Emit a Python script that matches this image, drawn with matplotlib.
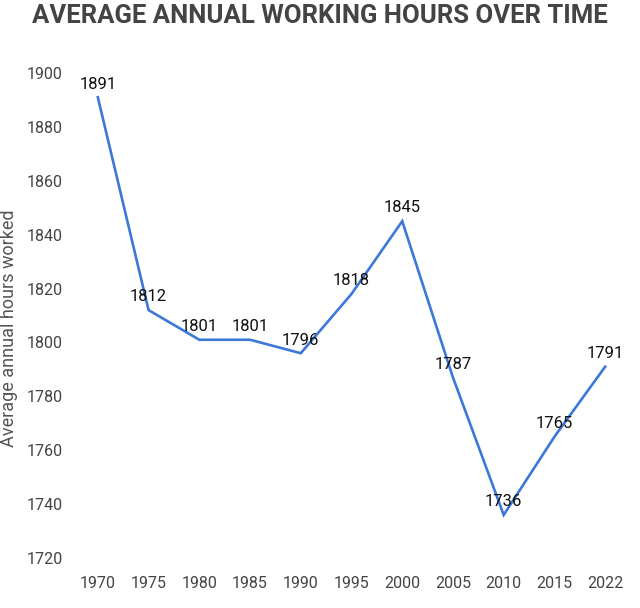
import matplotlib
matplotlib.use("Agg")
import matplotlib.pyplot as plt

years = ["1970", "1975", "1980", "1985", "1990", "1995", "2000", "2005", "2010", "2015", "2022"]
hours = [1891, 1812, 1801, 1801, 1796, 1818, 1845, 1787, 1736, 1765, 1791]
y_ticks = [1720, 1740, 1760, 1780, 1800, 1820, 1840, 1860, 1880, 1900]

plt.rcParams['font.family'] = ['Roboto', 'DejaVu Sans']

fig = plt.figure(figsize=(6.4, 6.08), dpi=100)
ax = fig.add_axes([75 / 640, 50 / 608, 553 / 640, 485 / 608])

x = list(range(len(years)))
ax.plot(x, hours, color='#3c78d8', lw=1.9, solid_joinstyle='miter')

for xi, v in zip(x, hours):
    ax.annotate(str(v), (xi, v), xytext=(0, 9.5), textcoords='offset points',
                ha='center', va='center', fontsize=12, color='#111111')

ax.set_xlim(-0.45, len(years) - 1 + 0.45)
ax.set_ylim(1720, 1900)
ax.set_xticks(x)
ax.set_xticklabels(years)
ax.set_yticks(y_ticks)
ax.tick_params(axis='both', length=0, labelsize=11.5, labelcolor='#444444')
ax.tick_params(axis='x', pad=13)
ax.tick_params(axis='y', pad=9)
for s in ax.spines.values():
    s.set_visible(False)

fig.text(9 / 640, 1 - 328 / 608, "Average annual hours worked", rotation=90, ha='center', va='center',
         fontsize=13, color='#555555')
fig.text(0.5, 1 - 16 / 608, "AVERAGE ANNUAL WORKING HOURS OVER TIME", ha='center', va='center',
         fontsize=18.5, fontweight='bold', color='#444444')

fig.savefig("out.png", dpi=100)
